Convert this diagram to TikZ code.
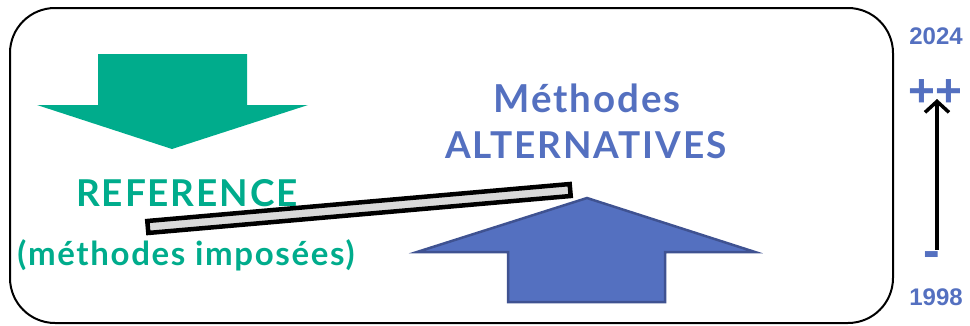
\documentclass[tikz,border=0pt]{standalone}
\usepackage{fontspec}
\setmainfont[LetterSpace=5]{Lato}
\newfontfamily\numfont{Liberation Sans}
\usetikzlibrary{arrows.meta}
\definecolor{refgreen}{HTML}{00AC8C}
\definecolor{altblue}{HTML}{5470C0}
\definecolor{altedge}{HTML}{3F5291}
\definecolor{levergray}{HTML}{D9D9D9}
\tikzset{
  greentext/.style={text=refgreen,font=\bfseries\fontsize{37}{40}\selectfont,inner sep=0pt},
  bluetext/.style={text=altblue,font=\bfseries\fontsize{37}{40}\selectfont,inner sep=0pt},
  yeartext/.style={text=altblue,font=\numfont\bfseries\fontsize{24}{26}\selectfont,inner sep=0pt}
}
\begin{document}
\begin{tikzpicture}[x=1pt,y=-1pt]
\useasboundingbox (0,0) rectangle (970,325);
\draw[line width=2pt,rounded corners=45pt](10,8) rectangle (893,323);
%
\fill[refgreen](98,54)--(247,54)--(247,105)--(308,105)--(172,149)--(37,105)--(98,105)--cycle;
\node[greentext](ref) at (187,193){REFERENCE};
\node[greentext,font=\bfseries\fontsize{33}{36}\selectfont](imp) at (186,255){(méthodes imposées)};
%
\node[bluetext,font=\bfseries\fontsize{38.5}{42}\selectfont](meth) at (587,98){Méthodes};
\node[bluetext](alt) at (586,145){ALTERNATIVES};
\draw[altedge,fill=altblue,line width=2.5pt,line join=miter](587,198)--(755,252)--(665,252)--(665,302)--(508,302)--(508,252)--(417,252)--cycle;
%
\node[draw=black,fill=levergray,line width=4.5pt,minimum width=424pt,minimum height=12pt,inner sep=0pt,rotate=5](lever) at (359,208.5){};
%
\node[yeartext](y24) at (936,36){2024};
\node[yeartext,font=\numfont\bfseries\fontsize{46}{46}\selectfont](pp) at (935,93){++};
\node[yeartext,font=\numfont\bfseries\fontsize{50}{50}\selectfont](mm) at (932,260){-};
\node[yeartext](y98) at (936,297){1998};
\draw[line width=3.5pt,-{Straight Barb[length=11pt,width=24pt]}](937,250)coordinate(lo)--(937,99);
\end{tikzpicture}
\end{document}
